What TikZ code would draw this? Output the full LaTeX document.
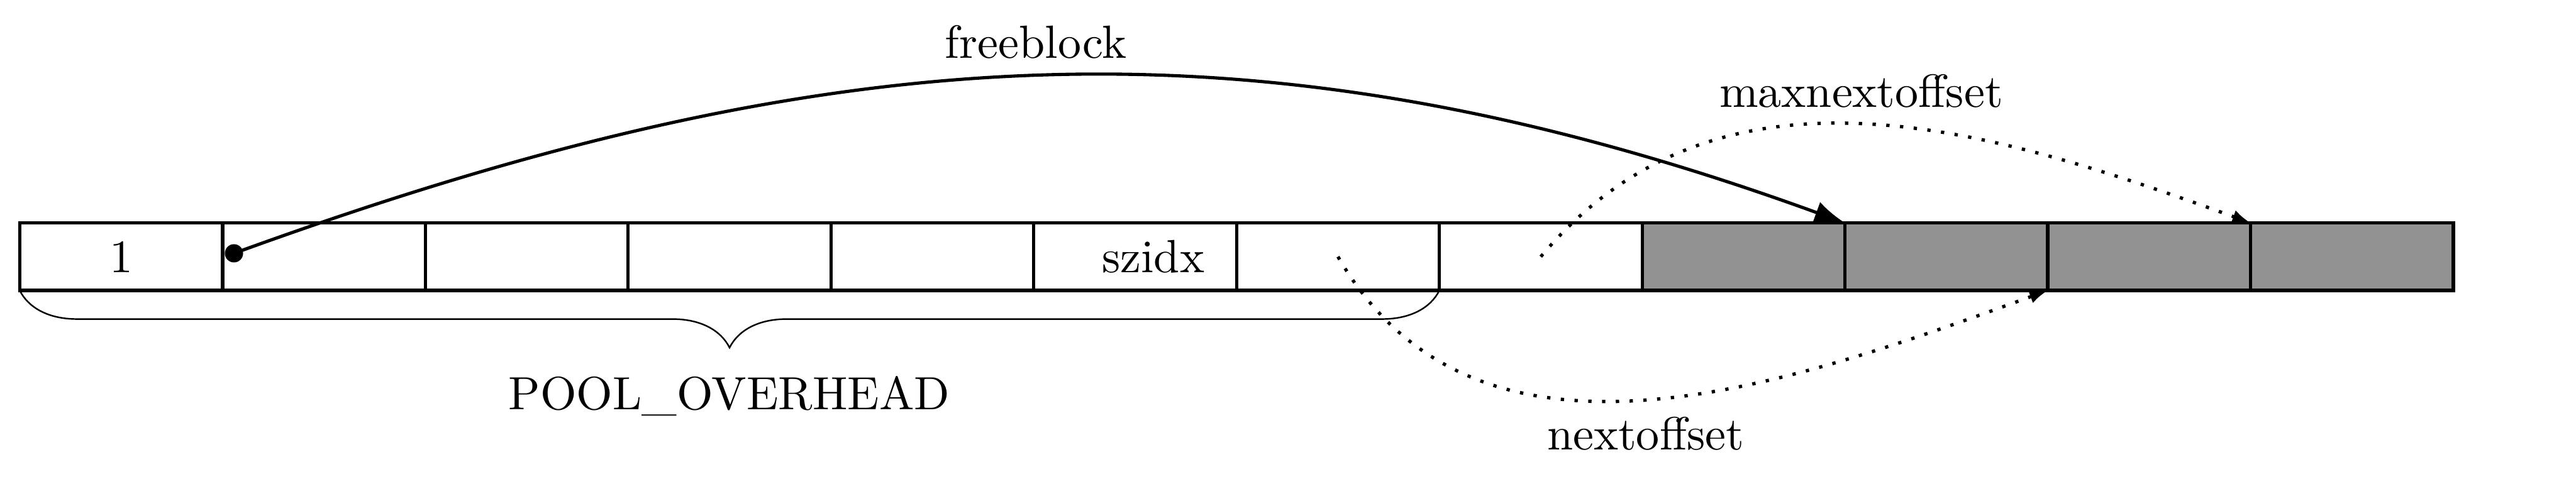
\documentclass[tikz,border=0pt]{standalone}
\usepackage{fontspec}
\setmainfont{lmroman10-regular}[Extension=.otf]
\usetikzlibrary{arrows.meta,decorations.pathreplacing}
\definecolor{cellgray}{RGB}{146,146,146}
\begin{document}
\begin{tikzpicture}[
  every node/.style={font=\fontsize{19.6}{23.5}\selectfont},
  cell/.style={draw, line width=1.4pt, minimum width=3cm, minimum height=1cm, inner sep=0pt, outer sep=0pt},
  shaded/.style={cell, fill=cellgray},
  lbl/.style={anchor=base, inner sep=0pt},
  ptr/.style={line width=1.35pt, -{Latex[length=0.45cm,width=0.33cm]}},
  dotptr/.style={line width=1.4pt, dash pattern=on 1.4pt off 4.4pt, -{Latex[length=0.27cm,width=0.2cm]}},
  bracestyle/.style={decorate, decoration={brace,mirror,amplitude=0.846cm}, line width=0.65pt},
]
\useasboundingbox (-0.292,-3.114) rectangle (37.814,4.299);
% memory cells
\node[cell] (c1) at (1.5,0.5) {1};
\node[cell] (c2) at (4.5,0.5) {};
\node[cell] (c3) at (7.5,0.5) {};
\node[cell] (c4) at (10.5,0.5) {};
\node[cell] (c5) at (13.5,0.5) {};
\node[cell] (c6) at (16.5,0.5) {};
\node[cell] (c7) at (19.5,0.5) {};
\node[cell] (c8) at (22.5,0.5) {};
\node[shaded] (c9) at (25.5,0.5) {};
\node[shaded] (c10) at (28.5,0.5) {};
\node[shaded] (c11) at (31.5,0.5) {};
\node[shaded] (c12) at (34.5,0.5) {};
\node[inner sep=0pt] (szidx) at ([xshift=0.268cm]c6.center) {szidx};
% pointer origin
\node[circle, fill, inner sep=0pt, minimum size=0.27cm] (dot) at (3.169,0.55) {};
% connectors
\draw[ptr] (dot.center) to[out=20,in=160] (c10.north west);
\draw[dotptr] (c8.center) to[out=50,in=160] (c12.north west);
\draw[dotptr] (c7.center) to[out=-60,in=-160] (c11.south west);
% brace
\draw[bracestyle] (c1.south west) -- (c7.south east);
% labels
\node[lbl] (lfree) at (15.03,3.438) {freeblock};
\node[lbl] (lmax) at (27.24,2.716) {maxnextoffset};
\node[lbl] (lnext) at (24.05,-2.361) {nextoffset};
\node[lbl] (lpool) at (10.495,-1.760) {POOL\_OVERHEAD};
\end{tikzpicture}
\end{document}
